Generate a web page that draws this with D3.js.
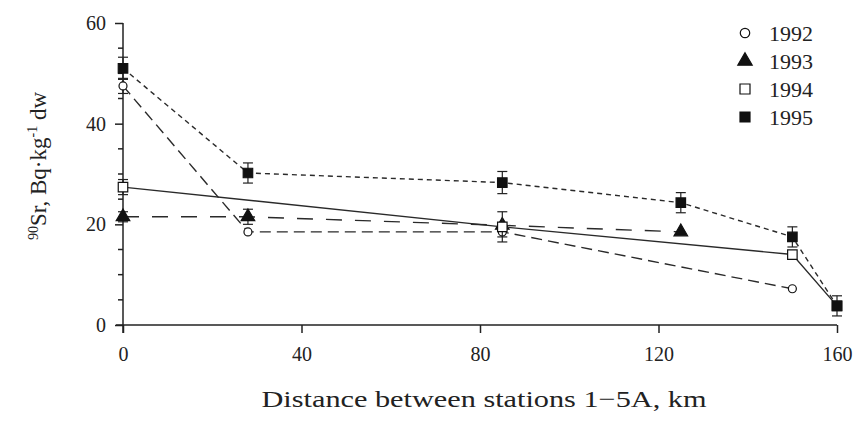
<!DOCTYPE html>
<html lang="en">
<head>
<meta charset="UTF-8">
<script src="https://cdn.jsdelivr.net/npm/d3@7"></script>
<style>
    body { margin: 0; background: #fff; }
    svg { display: block; font-family: "Liberation Serif", "DejaVu Serif", serif; }
    .axis path, .axis line { stroke: #222; stroke-width: 1.5px; }
    .axis text { font-size: 20px; fill: #222; font-family: "Liberation Serif", serif; }
    .series { fill: none; stroke: #2a2a2a; stroke-width: 1.4px; }
    .err { stroke: #222; stroke-width: 1.2px; }
</style>
</head>
<body>
<script>
    // Values (km, Bq/kg dw)
    var years = ["1992", "1993", "1994", "1995"];

    var km1992 = [0, 28, 85, 150];
    var sr1992 = [47.5, 18.5, 18.5, 7.2];
    var err1992 = [1.5, 0, 1, 0];

    var km1993 = [0, 28, 85, 125];
    var sr1993 = [21.5, 21.5, 19.8, 18.5];
    var err1993 = [1, 1.5, 0, 0];

    var km1994 = [0, 85, 150, 160];
    var sr1994 = [27.4, 19.5, 14, 3.8];
    var err1994 = [1.5, 3, 0, 0];

    var km1995 = [0, 28, 85, 125, 150, 160];
    var sr1995 = [51, 30.2, 28.3, 24.3, 17.5, 3.8];
    var err1995 = [2.2, 2, 2.2, 2, 2, 2];

    var xTicks = [0, 40, 80, 120, 160];
    var yTicks = [0, 20, 40, 60];
    var yMinor = [5, 10, 15, 25, 30, 35, 45, 50, 55];

    var width = 857, height = 423;

    var svg = d3.select("body").append("svg")
        .attr("width", width)
        .attr("height", height);

    var x = d3.scaleLinear().domain([0, 160]).range([123, 837]);
    var y = d3.scaleLinear().domain([0, 60]).range([325, 23]);

    /* Axes */
    svg.append("g")
        .attr("class", "axis")
        .attr("transform", "translate(0," + y(0) + ")")
        .call(d3.axisBottom(x).tickValues(xTicks).tickSize(8).tickSizeOuter(0).tickPadding(14))
        .call(function(g) {
            g.select(".domain").attr("d", "M" + (x(0) - 7) + ",0H" + x(160));
        });

    var yAxis = svg.append("g")
        .attr("class", "axis")
        .attr("transform", "translate(" + x(0) + ",0)")
        .call(d3.axisLeft(y).tickValues(yTicks).tickSize(8).tickSizeOuter(0).tickPadding(9))
        .call(function(g) {
            g.select(".domain").attr("d", "M0," + y(60) + "V" + (y(0) + 8));
        });

    yAxis.selectAll(".minor")
        .data(yMinor)
        .enter().append("line")
        .attr("class", "minor")
        .attr("x1", -5).attr("x2", 0)
        .attr("y1", function(d) { return y(d); })
        .attr("y2", function(d) { return y(d); });

    /* Axis titles */
    svg.append("text")
        .attr("x", 484)
        .attr("y", 407)
        .attr("text-anchor", "middle")
        .attr("font-size", 24)
        .attr("textLength", 445)
        .attr("lengthAdjust", "spacingAndGlyphs")
        .attr("fill", "#222")
        .text("Distance between stations 1\u22125A, km");

    var yt = svg.append("text")
        .attr("transform", "translate(46,166) rotate(-90)")
        .attr("text-anchor", "middle")
        .attr("font-size", 23)
        .attr("fill", "#222");
    yt.append("tspan").attr("font-size", 14).attr("dy", -8).text("90");
    yt.append("tspan").attr("dy", 8).text("Sr, Bq\u00b7kg");
    yt.append("tspan").attr("font-size", 14).attr("dy", -9).text("-1");
    yt.append("tspan").attr("dy", 9).text(" dw");

    /* Series */
    var series = [
        { year: years[0], km: km1992, sr: sr1992, err: err1992, dash: "11,6", marker: "circle" },
        { year: years[1], km: km1993, sr: sr1993, err: err1993, dash: "16,13", marker: "triangle" },
        { year: years[2], km: km1994, sr: sr1994, err: err1994, dash: null, marker: "open" },
        { year: years[3], km: km1995, sr: sr1995, err: err1995, dash: "5,4", marker: "filled" }
    ];

    var line = d3.line()
        .x(function(d) { return x(d[0]); })
        .y(function(d) { return y(d[1]); });

    series.forEach(function(s) {
        var pts = s.km.map(function(k, i) { return [k, s.sr[i], s.err[i]]; });

        svg.append("path")
            .datum(pts)
            .attr("class", "series")
            .attr("stroke-dasharray", s.dash)
            .attr("d", line);

        // error bars
        var eb = svg.append("g").selectAll("g")
            .data(pts.filter(function(d) { return d[2] > 0; }))
            .enter().append("g").attr("class", "err");
        eb.append("line")
            .attr("x1", function(d) { return x(d[0]); })
            .attr("x2", function(d) { return x(d[0]); })
            .attr("y1", function(d) { return y(d[1] - d[2]); })
            .attr("y2", function(d) { return y(d[1] + d[2]); });
        [-1, 1].forEach(function(sg) {
            eb.append("line")
                .attr("x1", function(d) { return x(d[0]) - 5; })
                .attr("x2", function(d) { return x(d[0]) + 5; })
                .attr("y1", function(d) { return y(d[1] + sg * d[2]); })
                .attr("y2", function(d) { return y(d[1] + sg * d[2]); });
        });

        drawMarkers(svg.append("g"), pts, s.marker);
    });

    function drawMarkers(g, pts, kind) {
        var sym = kind === "triangle" ? d3.symbolTriangle : kind === "circle" ? d3.symbolCircle : d3.symbolSquare;
        var size = kind === "triangle" ? 80 : kind === "circle" ? 50 : 90;
        g.selectAll("path")
            .data(pts)
            .enter().append("path")
            .attr("transform", function(d) { return "translate(" + x(d[0]) + "," + y(d[1]) + ")"; })
            .attr("d", d3.symbol().type(sym).size(size))
            .attr("fill", (kind === "open" || kind === "circle") ? "#fff" : "#111")
            .attr("stroke", "#111")
            .attr("stroke-width", 1.2);
    }

    /* Legend */
    var legendY = d3.scalePoint().domain(years).range([33, 117]);
    var legendKinds = ["circle", "triangle", "open", "filled"];
    var lg = svg.append("g");
    years.forEach(function(yr, i) {
        var row = lg.append("g").attr("transform", "translate(745," + legendY(yr) + ")");
        var k = legendKinds[i];
        var sym = k === "triangle" ? d3.symbolTriangle : k === "circle" ? d3.symbolCircle : d3.symbolSquare;
        row.append("path")
            .attr("d", d3.symbol().type(sym).size(k === "triangle" ? 90 : k === "circle" ? 70 : 100))
            .attr("fill", (k === "open" || k === "circle") ? "#fff" : "#111")
            .attr("stroke", "#111")
            .attr("stroke-width", 1.2);
        row.append("text")
            .attr("x", 24)
            .attr("dy", "0.35em")
            .attr("font-size", 22)
            .attr("fill", "#222")
            .text(yr);
    });
</script>
</body>
</html>
